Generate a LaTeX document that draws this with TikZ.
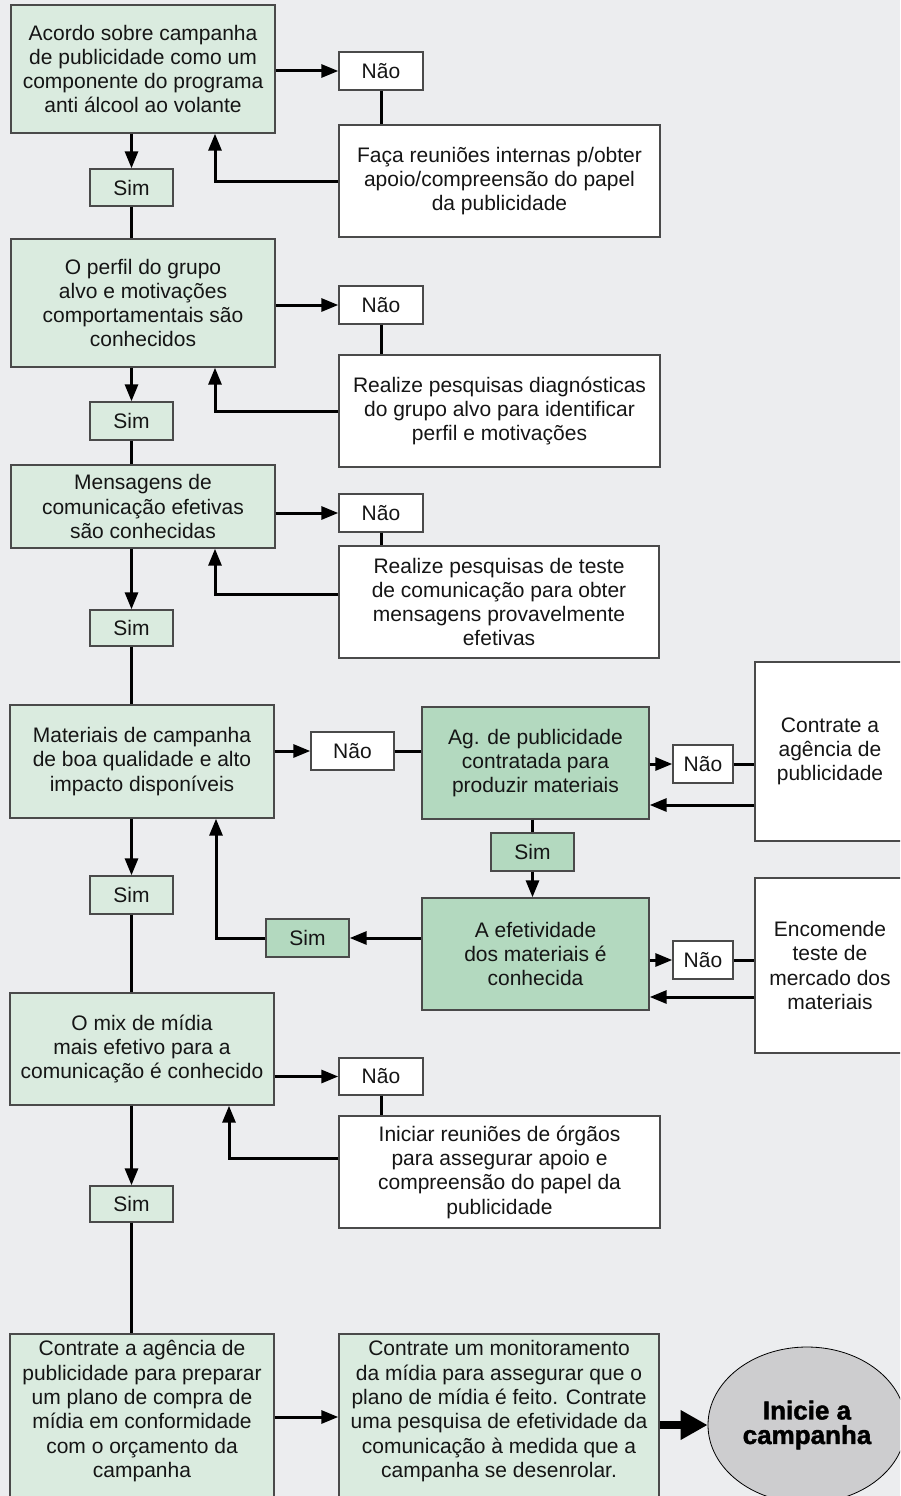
\documentclass[tikz,border=0pt]{standalone}
\usepackage{fontspec}
\setmainfont{Liberation Sans}
\newfontfamily\heavyfont[BoldFeatures={FakeBold=1.6}]{Liberation Sans}
\usetikzlibrary{arrows.meta,shapes.geometric,calc}
\definecolor{bg}{HTML}{ECEDEF}
\definecolor{lgreen}{HTML}{DAEBDF}
\definecolor{dgreen}{HTML}{B3D9BF}
\definecolor{bord}{HTML}{4A4A4A}
\definecolor{ellfill}{HTML}{CDCDCF}
\definecolor{ink}{HTML}{151515}
\tikzset{
  box/.style={draw=bord, line width=1.4pt, rectangle, inner sep=0pt, align=center,
    font=\fontsize{21}{24.3}\selectfont, text=ink},
  lbox/.style={box, fill=lgreen},
  dbox/.style={box, fill=dgreen},
  wbox/.style={box, fill=white},
  conn/.style={line width=3pt, draw=black},
  arr/.style={conn, -{Triangle[length=17pt,width=13pt]}},
  bigarr/.style={line width=8pt, draw=black, -{Triangle[length=27pt,width=28pt]}},
}
\begin{document}
\begin{tikzpicture}[x=1pt,y=-1pt]
\useasboundingbox (0,0) rectangle (900,1496);
\clip (0,0) rectangle (900,1496);
\fill[bg] (0,0) rectangle (900,1496);

% row 1
\node[lbox, minimum width=264pt, minimum height=128pt] (b1) at (143,69)
  {Acordo sobre campanha\\de publicidade como um\\componente do programa\\anti álcool ao volante};
\node[wbox, minimum width=84pt, minimum height=38pt] (n1) at (381,71) {Não};
\node[wbox, minimum width=321pt, minimum height=112pt] (f1) at (499.5,181)
  {Faça reuniões internas p/obter\\apoio/compreensão do papel\\da publicidade};
\node[lbox, minimum width=83pt, minimum height=37pt] (s1) at (131.5,187.5) {Sim};

% row 2
\node[lbox, minimum width=264pt, minimum height=128pt] (b2) at (143,303)
  {O perfil do grupo\\alvo e motivações\\comportamentais são\\conhecidos};
\node[wbox, minimum width=84pt, minimum height=38pt] (n2) at (381,305) {Não};
\node[wbox, minimum width=321pt, minimum height=112pt] (f2) at (499.5,411)
  {Realize pesquisas diagnósticas\\do grupo alvo para identificar\\perfil e motivações};
\node[lbox, minimum width=83pt, minimum height=38pt] (s2) at (131.5,421) {Sim};

% row 3
\node[lbox, minimum width=264pt, minimum height=83pt] (b3) at (143,506.5)
  {Mensagens de\\comunicação efetivas\\são conhecidas};
\node[wbox, minimum width=84pt, minimum height=38pt] (n3) at (381,513) {Não};
\node[wbox, minimum width=320pt, minimum height=112pt] (f3) at (499,602)
  {Realize pesquisas de teste\\de comunicação para obter\\mensagens provavelmente\\efetivas};
\node[lbox, minimum width=83pt, minimum height=36pt] (s3) at (131.5,628) {Sim};

% row 4
\node[lbox, minimum width=264pt, minimum height=113pt] (b4) at (142,761.5)
  {Materiais de campanha\\de boa qualidade e alto\\impacto disponíveis};
\node[wbox, minimum width=83pt, minimum height=38pt] (n4) at (352.5,751) {Não};
\node[dbox, minimum width=227pt, minimum height=112pt] (ag) at (535.5,763)
  {Ag. de publicidade\\contratada para\\produzir materiais};
\node[wbox, minimum width=60pt, minimum height=38pt] (n5) at (703,764) {Não};
\node[wbox, minimum width=150pt, minimum height=179pt] (c1) at (830,751.5)
  {Contrate a\\agência de\\publicidade};
\node[dbox, minimum width=83pt, minimum height=38pt] (s4) at (532.5,852) {Sim};
\node[dbox, minimum width=227pt, minimum height=112pt] (ef) at (535.5,954)
  {A efetividade\\dos materiais é\\conhecida};
\node[wbox, minimum width=60pt, minimum height=38pt] (n6) at (703,960) {Não};
\node[wbox, minimum width=150pt, minimum height=175pt] (c2) at (830,965.5)
  {Encomende\\teste de\\mercado dos\\materiais};
\node[dbox, minimum width=83pt, minimum height=38pt] (s5) at (307.5,938) {Sim};
\node[lbox, minimum width=83pt, minimum height=38pt] (s6) at (131.5,895) {Sim};

% row 5
\node[lbox, minimum width=264pt, minimum height=112pt] (b5) at (142,1049)
  {O mix de mídia\\mais efetivo para a\\comunicação é conhecido};
\node[wbox, minimum width=84pt, minimum height=37pt] (n7) at (381,1076.5) {Não};
\node[wbox, minimum width=321pt, minimum height=112pt] (f5) at (499.5,1172)
  {Iniciar reuniões de órgãos\\para assegurar apoio e\\compreensão do papel da\\publicidade};
\node[lbox, minimum width=83pt, minimum height=36pt] (s7) at (131.5,1204) {Sim};

% row 6
\node[lbox, minimum width=264pt, minimum height=166pt] (b6) at (142,1417)
  {Contrate a agência de\\publicidade para preparar\\um plano de compra de\\mídia em conformidade\\com o orçamento da\\campanha\rule[-16pt]{0pt}{1pt}};
\node[lbox, minimum width=320pt, minimum height=166pt] (b7) at (499,1417)
  {Contrate um monitoramento\\da mídia para assegurar que o\\plano de mídia é feito. Contrate\\uma pesquisa de efetividade da\\comunicação à medida que a\\campanha se desenrolar.\rule[-16pt]{0pt}{1pt}};
\node[ellipse, draw=black, line width=0.8pt, fill=ellfill, minimum width=198pt,
  minimum height=156pt, inner sep=0pt, align=center, text=black,
  font=\heavyfont\bfseries\fontsize{26}{24.5}\selectfont] (el) at (807,1425)
  {Inicie a\\campanha};

% connectors row 1
\draw[arr] (b1.east |- n1.west) -- (n1.west);
\draw[conn] (n1.south) -- (n1.south |- f1.north);
\draw[arr] (f1.west) -| ([xshift=72pt]b1.south);
\draw[arr] (s1.north |- b1.south) -- (s1.north);
\draw[conn] (s1.south) -- (s1.south |- b2.north);

% row 2
\draw[arr] (b2.east |- n2.west) -- (n2.west);
\draw[conn] (n2.south) -- (n2.south |- f2.north);
\draw[arr] (f2.west) -| ([xshift=72pt]b2.south);
\draw[arr] (s2.north |- b2.south) -- (s2.north);
\draw[conn] (s2.south) -- (s2.south |- b3.north);

% row 3
\draw[arr] (b3.east |- n3.west) -- (n3.west);
\draw[conn] (n3.south) -- (n3.south |- f3.north);
\draw[arr] ([yshift=8pt]f3.west) -| ([xshift=72pt]b3.south);
\draw[arr] (s3.north |- b3.south) -- (s3.north);
\draw[conn] (s3.south) -- (s3.south |- b4.north);

% row 4
\draw[arr] (b4.east |- n4.west) -- (n4.west);
\draw[conn] (n4.east) -- (n4.east -| ag.west);
\draw[arr] (ag.east |- n5.west) -- (n5.west);
\draw[conn] (n5.east) -- (n5.east -| c1.west);
\coordinate (r4) at ([yshift=-42pt]ag.east);
\draw[arr] (r4 -| c1.west) -- (r4);
\draw[conn] (s4.north |- ag.south) -- (s4.north);
\draw[arr] (s4.south) -- (s4.south |- ef.north);
\draw[arr] (ef.east |- n6.west) -- (n6.west);
\draw[conn] (n6.east) -- (n6.east -| c2.west);
\coordinate (r5) at ([yshift=-43pt]ef.east);
\draw[arr] (r5 -| c2.west) -- (r5);
\draw[arr] (ef.west |- s5.east) -- (s5.east);
\draw[arr] (s5.west) -| ([xshift=74pt]b4.south);
\draw[arr] (s6.north |- b4.south) -- (s6.north);
\draw[conn] (s6.south) -- (s6.south |- b5.north);

% row 5
\draw[arr] (b5.east |- n7.west) -- (n7.west);
\draw[conn] (n7.south) -- (n7.south |- f5.north);
\draw[arr] ([yshift=14pt]f5.west) -| ([xshift=87pt]b5.south);
\draw[arr] (s7.north |- b5.south) -- (s7.north);
\draw[conn] (s7.south) -- (s7.south |- b6.north);

% row 6
\draw[arr] (b6.east) -- (b7.west);
\draw[bigarr] (b7.east |- el.west) -- (el.west);
\end{tikzpicture}
\end{document}
